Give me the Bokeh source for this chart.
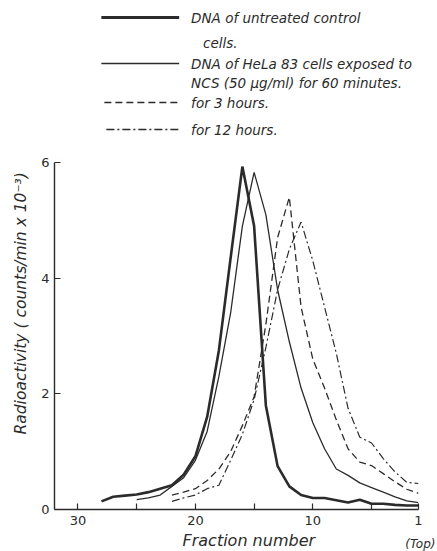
from bokeh.plotting import figure
from bokeh.models import Range1d, FixedTicker, Title
from bokeh.layouts import column
from bokeh.core.properties import value
from bokeh.embed import file_html
from bokeh.resources import INLINE

# ---- data ----
control_frac = [28, 27, 26, 25, 24, 23, 22, 21, 20, 19, 18, 17, 16, 15, 14, 13, 12, 11, 10, 9, 8, 7, 6, 5, 4, 3, 2, 1]
control_val = [0.14, 0.22, 0.24, 0.26, 0.30, 0.36, 0.42, 0.60, 0.92, 1.60, 2.75, 4.35, 5.93, 4.90, 1.80, 0.75, 0.40, 0.25, 0.20, 0.20, 0.16, 0.12, 0.17, 0.10, 0.10, 0.08, 0.07, 0.07]

min60_frac = [25, 24, 23, 22, 21, 20, 19, 18, 17, 16, 15, 14, 13, 12, 11, 10, 9, 8, 7, 6, 5, 4, 3, 2, 1]
min60_val = [0.17, 0.20, 0.25, 0.40, 0.55, 0.85, 1.35, 2.30, 3.40, 4.90, 5.83, 5.10, 3.80, 2.90, 2.10, 1.50, 1.05, 0.70, 0.59, 0.46, 0.38, 0.30, 0.22, 0.15, 0.12]

h3_frac = [22, 21, 20, 19, 18, 17, 16, 15, 14, 13, 12, 11, 10, 9, 8, 7, 6, 5, 4, 3, 2, 1]
h3_val = [0.25, 0.30, 0.36, 0.50, 0.70, 1.00, 1.45, 1.95, 3.20, 4.70, 5.40, 3.50, 2.60, 2.10, 1.55, 1.05, 0.82, 0.76, 0.62, 0.48, 0.35, 0.28]

h12_frac = [22, 21, 20, 19, 18, 17, 16, 15, 14, 13, 12, 11, 10, 9, 8, 7, 6, 5, 4, 3, 2, 1]
h12_val = [0.14, 0.20, 0.25, 0.36, 0.42, 0.85, 1.30, 1.90, 2.80, 3.80, 4.50, 4.97, 4.30, 3.50, 2.70, 1.75, 1.25, 1.15, 0.88, 0.65, 0.47, 0.45]

x_ticks = [30, 25, 20, 15, 10, 5, 1]
x_tick_labels = {30: "30", 25: "", 20: "20", 15: "", 10: "10", 5: "", 1: "1"}
y_ticks = [0, 2, 4, 6]

legend_labels = [
    ["DNA of untreated control", "cells."],
    ["DNA of HeLa 83 cells exposed to", "NCS (50 \u03bcg/ml) for 60 minutes."],
    ["for 3 hours."],
    ["for 12 hours."],
]
y_title = "Radioactivity ( counts/min x 10\u207b\u00b3)"
x_title = "Fraction number"
x_end_note = "(Top)"

INK = "#2b2b2b"
FONT = "DejaVu Sans"

W = 437
H = 551
LH = 146
BL, BR = 53, 19

# ---- legend panel (x data = page px) ----
lf = figure(width=W, height=LH, x_range=Range1d(BL, W - BR), y_range=Range1d(LH, 0),
            output_backend="svg", toolbar_location=None,
            min_border_left=BL, min_border_right=BR, min_border_top=0, min_border_bottom=0,
            x_axis_type=None, y_axis_type=None)
lf.grid.visible = False
lf.outline_line_color = None

styles = [
    dict(line_width=3.0, line_dash="solid"),
    dict(line_width=1.4, line_dash="solid"),
    dict(line_width=1.4, line_dash="7 4"),
    dict(line_width=1.3, line_dash="8 3 2 3"),
]
rows_y = [17, 63, 102, 129]
line_x0 = [100, 100, 103, 105]
second_pos = [(202, 42), (190, 82)]
for i, (lab, st) in enumerate(zip(legend_labels, styles)):
    y = rows_y[i]
    lf.line(x=[line_x0[i], 178], y=[y, y], line_color=INK, **st)
    lf.text(x=[190], y=[y], text=[lab[0]], text_font=value(FONT), text_font_style="italic",
            text_font_size="13.5px", text_color=INK, text_baseline="middle")
    if len(lab) > 1:
        x2, y2 = second_pos[i]
        lf.text(x=[x2], y=[y2], text=[lab[1]], text_font=value(FONT), text_font_style="italic",
                text_font_size="13.5px", text_color=INK, text_baseline="middle")

# ---- main plot ----
MH = H - LH
p = figure(width=W, height=MH, x_range=Range1d(32, 1), y_range=Range1d(0, 6),
           output_backend="svg", toolbar_location=None,
           min_border_left=BL, min_border_right=BR, min_border_top=162 - LH,
           min_border_bottom=MH - (509 - LH))
p.grid.visible = False
p.outline_line_color = None

p.line(control_frac, control_val, line_color=INK, line_width=2.6)
p.line(min60_frac, min60_val, line_color=INK, line_width=1.3)
p.line(h3_frac, h3_val, line_color=INK, line_width=1.3, line_dash="7 4")
p.line(h12_frac, h12_val, line_color=INK, line_width=1.2, line_dash="8 3 2 3")

for ax in (p.xaxis[0], p.yaxis[0]):
    ax.axis_line_color = INK
    ax.axis_line_width = 1.4
    ax.major_tick_line_color = INK
    ax.major_tick_line_width = 1.2
    ax.major_tick_in = 6
    ax.major_tick_out = 0
    ax.minor_tick_line_color = None
    ax.major_label_text_font = FONT
    ax.major_label_text_font_size = "13px"
    ax.major_label_text_color = INK

p.xaxis.ticker = FixedTicker(ticks=x_ticks)
p.xaxis.major_label_overrides = x_tick_labels
p.xaxis.major_label_standoff = 6
p.yaxis.ticker = FixedTicker(ticks=y_ticks)
p.yaxis.major_label_standoff = 5
p.yaxis.major_label_orientation = "horizontal"

p.add_layout(Title(text=y_title, align="left", offset=75, standoff=18,
                   text_font=FONT, text_font_style="italic", text_font_size="15.5px",
                   text_color=INK), "left")
p.add_layout(Title(text=x_title, align="left", offset=128, standoff=2,
                   text_font=FONT, text_font_style="italic", text_font_size="16px",
                   text_color=INK), "below")
p.add_layout(Title(text=x_end_note, align="right", offset=-17, standoff=-28,
                   vertical_align="top",
                   text_font=FONT, text_font_style="italic", text_font_size="12px",
                   text_color=INK), "below")

layout = column(lf, p)
open("out.html", "w").write(file_html(layout, INLINE))
